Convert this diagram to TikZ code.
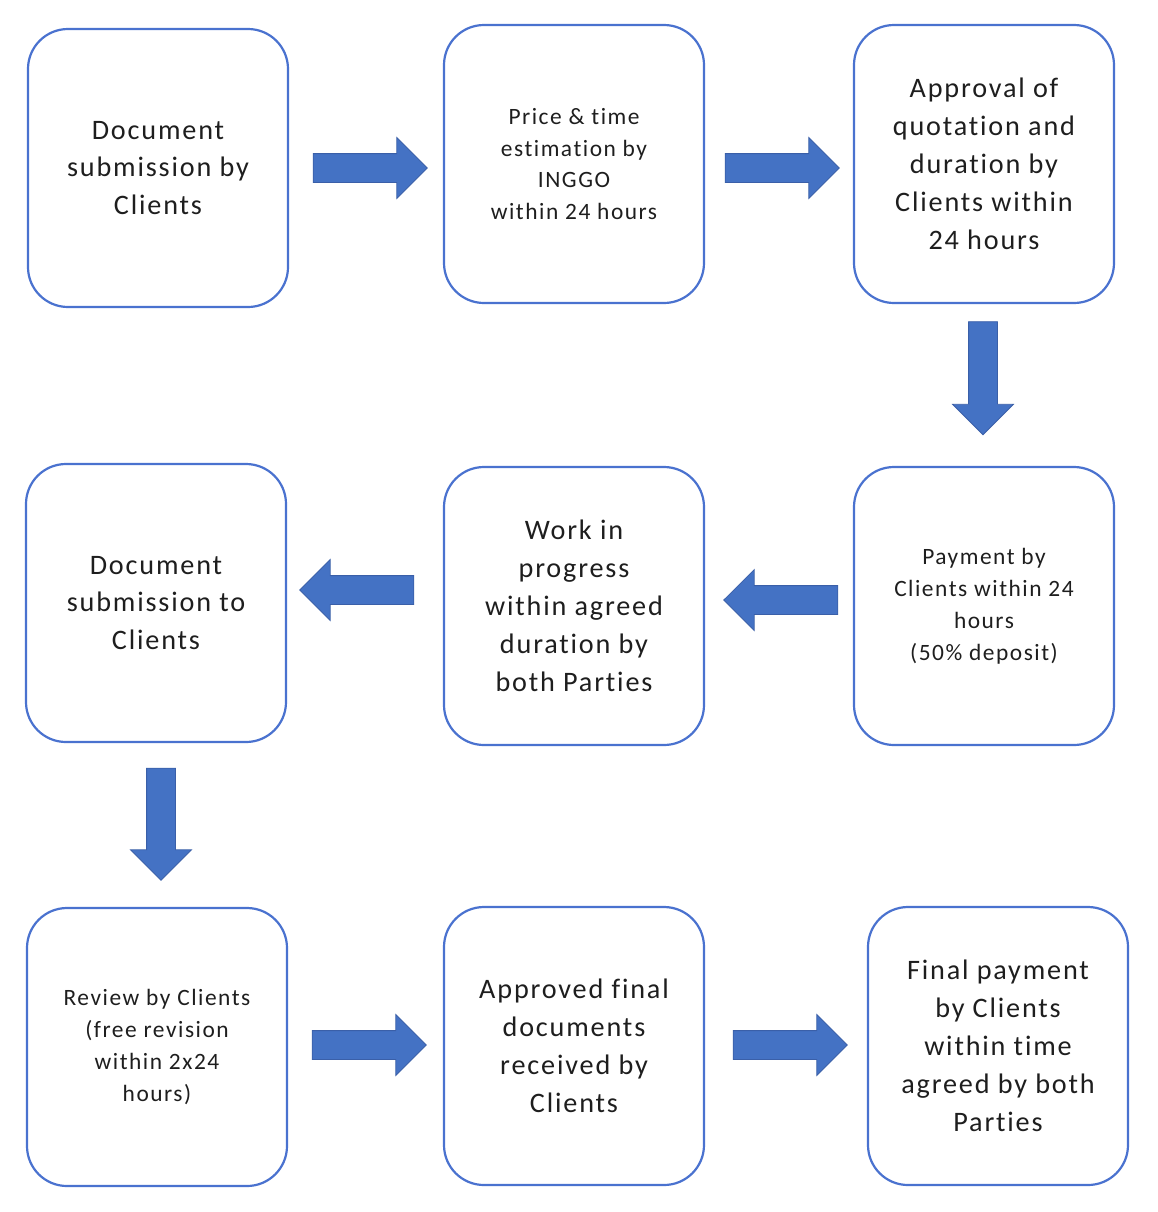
\documentclass[tikz,border=0pt]{standalone}
\usepackage{fontspec}
\setmainfont{Carlito}[LetterSpace=6.5,Ligatures={NoCommon}]
\usetikzlibrary{shapes.arrows}
\definecolor{boxblue}{HTML}{4A72CF}
\definecolor{arrfill}{HTML}{4472C4}
\definecolor{arrline}{HTML}{3A5FA8}
\definecolor{txt}{HTML}{1E1E1E}
\begin{document}
\begin{tikzpicture}[x=1bp,y=-1bp,
  stepbox/.style={draw=boxblue, line width=2.2bp, rounded corners=40bp, text=txt,
    minimum width=260bp, minimum height=278bp, align=center, inner sep=0pt},
  bigtxt/.style={font=\fontsize{28.3}{38}\selectfont},
  smalltxt/.style={font=\fontsize{23.5}{32}\selectfont},
  blockarrow/.style={single arrow, fill=arrfill, draw=arrline, line width=0.8bp,
    inner xsep=0pt, inner ysep=14bp, single arrow head extend=16bp,
    minimum height=114bp, text width=0pt},
  vblockarrow/.style={blockarrow, shape border rotate=270, inner xsep=14bp, inner ysep=0pt},
]
\useasboundingbox (0,0) rectangle (1158,1212);
% row 1
\node[stepbox,bigtxt] (b1) at (158,168) {Document\\submission by\\Clients};
\node[stepbox,smalltxt] (b2) at (574,164) {Price \& time\\estimation by\\INGGO\\within 24 hours};
\node[stepbox,bigtxt] (b3) at (984,164) {Approval of\\quotation and\\duration by\\Clients within\\24 hours};
% row 2
\node[stepbox,bigtxt] (b4) at (156,603) {Document\\submission to\\Clients};
\node[stepbox,bigtxt] (b5) at (574,606) {Work in\\progress\\within agreed\\duration by\\both Parties};
\node[stepbox,smalltxt] (b6) at (984,606) {Payment by\\Clients within 24\\hours\\(50\% deposit)};
% row 3
\node[stepbox,smalltxt] (b7) at (157,1047) {Review by Clients\\(free revision\\within 2x24\\hours)};
\node[stepbox,bigtxt] (b8) at (574,1046) {Approved final\\documents\\received by\\Clients};
\node[stepbox,bigtxt] (b9) at (998,1046) {Final payment\\by Clients\\within time\\agreed by both\\Parties};
% arrows
\node[blockarrow] (a1) at (363,168) {};
\node[blockarrow] (a2) at (775,168) {};
\node[vblockarrow, minimum height=113bp] (a3) at (983,371) {};
\node[blockarrow, shape border rotate=180] (a4) at (364,590) {};
\node[blockarrow, shape border rotate=180] (a5) at (788,600) {};
\node[vblockarrow, minimum height=112bp] (a6) at (161,817) {};
\node[blockarrow] (a7) at (362,1045) {};
\node[blockarrow] (a8) at (783,1045) {};
\end{tikzpicture}
\end{document}
